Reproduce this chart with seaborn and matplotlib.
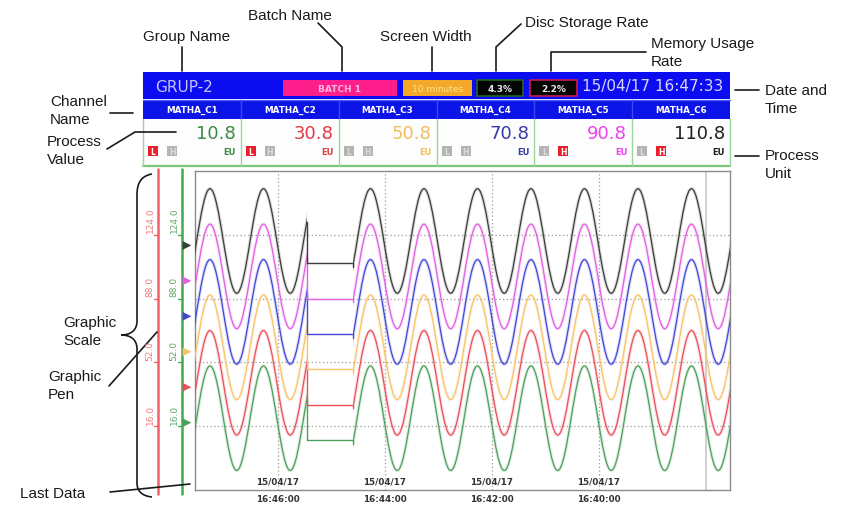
import numpy as np
import pandas as pd
import seaborn as sns
import matplotlib.pyplot as plt
from matplotlib.path import Path
from matplotlib.patches import PathPatch, Rectangle, Polygon
from matplotlib import transforms

# ---------------- values ----------------
group_name = "GRUP-2"
batch_name = "BATCH 1"
screen_width = "10 minutes"
disc_rate = "4.3%"
memory_rate = "2.2%"
stamp = "15/04/17 16:47:33"

channels = ["MATHA_C1", "MATHA_C2", "MATHA_C3", "MATHA_C4", "MATHA_C5", "MATHA_C6"]
process_values = [10.8, 30.8, 50.8, 70.8, 90.8, 110.8]
units = ["EU", "EU", "EU", "EU", "EU", "EU"]
low_alarm = [True, True, False, False, False, False]
high_alarm = [False, False, False, False, True, True]

pen_colors = ["#4f9f5c", "#e9505b", "#f7c36a", "#4646d6", "#e35ee3", "#3c3c3c"]
value_colors = ["#3c8a45", "#e23a46", "#f2bf5e", "#3a3aaa", "#f040f0", "#202020"]

# wave turning points, minutes before 16:47:33 (older data to the right)
extreme_times = [-0.22, 0.28, 0.78, 1.28, 1.78, 2.28, 2.78, 3.28, 3.78, 4.28, 4.78,
                 5.28, 5.78, 6.28, 6.78, 7.28, 7.78, 8.28, 8.78, 9.28, 9.78, 10.28]
wave_high = [50, 70, 90, 110, 130, 150]
wave_low = [-9, 11, 31, 51, 71, 91]

# hold section where the recorder lost data
gap_start, gap_end = 2.09, 2.95
gap_start_values = [31, 51, 71, 91, 111, 131]
hold_values = [8, 28, 48, 68, 88, 108]
gap_end_values = [6, 26, 46, 66, 86, 106]

pen_marker_values = [18, 38, 58, 78, 98, 118]

scale_ticks = [16, 52, 88, 124]
scale_labels = ["16.0", "52.0", "88.0", "124.0"]

grid_times = [1.55, 3.55, 5.55, 7.55]
tick_dates = ["15/04/17", "15/04/17", "15/04/17", "15/04/17"]
tick_times = ["16:46:00", "16:44:00", "16:42:00", "16:40:00"]
last_grid_time = 9.55

sns.set_theme(style="white")
plt.rcParams["font.family"] = ["DejaVu Sans"]
ANN = "Liberation Sans"

fig = plt.figure(figsize=(8.43, 5.10), dpi=100)
fig.patch.set_facecolor("white")

# pixel overlay for the screen furniture and call-outs
ov = fig.add_axes([0, 0, 1, 1], zorder=0)
ov.set_xlim(0, 843)
ov.set_ylim(510, 0)
ov.axis("off")

ax = fig.add_axes([195 / 843, 1 - 491 / 510, 535 / 843, 319 / 510], zorder=1)
ax.set_facecolor("white")


def wave_path(times, values, a=0.364):
    verts = [(times[0], values[0])]
    codes = [Path.MOVETO]
    for x0, y0, x1, y1 in zip(times[:-1], values[:-1], times[1:], values[1:]):
        dx = x1 - x0
        verts += [(x0 + a * dx, y0), (x1 - a * dx, y1), (x1, y1)]
        codes += [Path.CURVE4] * 3
    return Path(verts, codes)


pieces = [(0, gap_start), (gap_end, 10)]
for i in range(6):
    vals = [wave_low[i], wave_high[i]] * (len(extreme_times) // 2)
    path = wave_path(extreme_times, vals)
    for x0, x1 in pieces:
        for lw, alpha in [(2.4, 0.18), (0.9, 1.0)]:
            pp = PathPatch(path, facecolor="none", edgecolor=pen_colors[i], lw=lw, alpha=alpha, zorder=3)
            clip = Polygon([(x0, -20), (x1, -20), (x1, 160), (x0, 160)], closed=True,
                           transform=ax.transData)
            pp.set_clip_path(clip)
            ax.add_patch(pp)
    seg = pd.DataFrame({"t": [gap_start, gap_start, gap_end, gap_end],
                        "v": [gap_start_values[i], hold_values[i], hold_values[i], gap_end_values[i]]})
    sns.lineplot(data=seg, x="t", y="v", sort=False, estimator=None, color=pen_colors[i],
                 lw=1.0, ax=ax, zorder=3)

# pen position markers
sns.scatterplot(x=[-0.15] * 6, y=pen_marker_values, hue=channels, palette=pen_colors,
                marker=">", s=40, linewidth=0, legend=False, ax=ax, clip_on=False, zorder=6)

ax.set_xlim(0, 10)
ax.set_ylim(-20, 160)
ax.set_xlabel("")
ax.set_ylabel("")
ax.set_xticks(grid_times)
ax.set_yticks(scale_ticks)
ax.set_xticklabels([])
ax.set_yticklabels([])
ax.tick_params(length=0)
ax.grid(True, color="#9a9a9a", linestyle=(0, (1, 2)), lw=0.9)
ax.axvline(last_grid_time, color="#c8c8c8", lw=1.2, zorder=2)
for s in ax.spines.values():
    s.set_color("#8a8a8a")
    s.set_linewidth(1.0)

tb = transforms.blended_transform_factory(ax.transData, ax.transAxes)
for t, d, h in zip(grid_times, tick_dates, tick_times):
    ax.text(t, 0.028, d, transform=tb, ha="center", va="center", fontsize=6.3,
            fontweight="bold", color="#333333", zorder=7)
    ax.text(t, -0.026, h, transform=tb, ha="center", va="center", fontsize=6.3,
            fontweight="bold", color="#333333", clip_on=False)

# graphic scales
ts = transforms.blended_transform_factory(ov.transData, ax.transData)
ov.plot([158, 158], [170, 495], color="#f2606a", lw=1.8)
ov.plot([182, 182], [170, 495], color="#45a84d", lw=1.8)
for v, lab in zip(scale_ticks, scale_labels):
    ov.text(150, v + 1.5, lab, transform=ts, rotation=90, ha="center", va="bottom",
            fontsize=6.5, color="#f07a80")
    ov.text(174, v + 1.5, lab, transform=ts, rotation=90, ha="center", va="bottom",
            fontsize=6.5, color="#5ea862")
    ov.plot([154, 158], [v, v], transform=ts, color="#f2606a", lw=1)
    ov.plot([178, 182], [v, v], transform=ts, color="#45a84d", lw=1)

# ---------------- screen header ----------------
left, right = 143, 730
ov.add_patch(Rectangle((left, 73), right - left, 27, fc="#0c0cf0", ec="none"))
ov.add_patch(Rectangle((left, 101), right - left, 19, fc="#0c14e8", ec="none"))
ov.plot([left, right], [100.5, 100.5], color="#4a5cf6", lw=1)
ov.add_patch(Rectangle((left, 120), right - left, 47, fc="#fcfdfc", ec="none"))
ov.plot([left, right], [167, 167], color="#7cc67c", lw=1.6)
ov.plot([left, left], [120, 167], color="#9ad69a", lw=1)
ov.plot([right, right], [120, 167], color="#9ad69a", lw=1)

ov.text(155, 87, group_name, fontsize=11, color="#c4c4fa", va="center", ha="left")
ov.add_patch(Rectangle((283, 81), 114, 16, fc="#ff1f8c", ec="none"))
ov.text(340, 89, batch_name, fontsize=6.5, fontweight="bold", color="#ffb6dc", ha="center", va="center")
ov.add_patch(Rectangle((403, 81), 69, 16, fc="#f4a82a", ec="none"))
ov.text(437.5, 89, screen_width, fontsize=6.5, color="#ffe48a", ha="center", va="center")
ov.add_patch(Rectangle((477, 81), 46, 16, fc="#050505", ec="#1f6a1f", lw=1.2))
ov.text(500, 89, disc_rate, fontsize=6.5, fontweight="bold", color="#e8e8e8", ha="center", va="center")
ov.add_patch(Rectangle((530, 81), 47, 16, fc="#050505", ec="#c4204a", lw=1.2))
ov.text(553.5, 89, memory_rate, fontsize=6.5, fontweight="bold", color="#e8e8e8", ha="center", va="center")
ov.text(582, 87, stamp, fontsize=11, color="#d6d6ff", ha="left", va="center")

cell = (right - left) / 6
for i in range(6):
    x0 = left + i * cell
    if i > 0:
        ov.plot([x0, x0], [101, 120], color="#3a4cf0", lw=1)
        ov.plot([x0, x0], [120, 167], color="#9ad69a", lw=1)
    ov.text(x0 + cell / 2, 110.5, channels[i], fontsize=6.3, fontweight="bold", color="white",
            ha="center", va="center")
    ov.text(x0 + cell - 5, 134, f"{process_values[i]:.1f}", fontsize=13, color=value_colors[i],
            ha="right", va="center")
    lc = "#e8202c" if low_alarm[i] else "#b4b4b4"
    hc = "#e8202c" if high_alarm[i] else "#b4b4b4"
    ov.add_patch(Rectangle((x0 + 5, 147), 10, 10, fc=lc, ec="none"))
    ov.add_patch(Rectangle((x0 + 24, 147), 10, 10, fc=hc, ec="none"))
    ov.text(x0 + 10, 152.5, "L", fontsize=5.5, fontweight="bold", ha="center", va="center",
            color="white" if low_alarm[i] else "#dcdcdc")
    ov.text(x0 + 29, 152.5, "H", fontsize=5.5, fontweight="bold", ha="center", va="center",
            color="white" if high_alarm[i] else "#dcdcdc")
    ov.text(x0 + cell - 5, 153, units[i], fontsize=6, fontweight="bold", color=value_colors[i],
            ha="right", va="center")

# ---------------- call-outs ----------------
ink = "#1a1a1a"
kw = dict(fontsize=11, family=ANN, color=ink)
ov.text(143, 37, "Group Name", va="center", ha="left", **kw)
ov.plot([182, 182], [48, 72], color=ink, lw=1.2)
ov.text(248, 16, "Batch Name", va="center", ha="left", **kw)
ov.plot([318, 342, 342], [24, 48, 72], color=ink, lw=1.2)
ov.text(380, 37, "Screen Width", va="center", ha="left", **kw)
ov.plot([432, 432], [48, 72], color=ink, lw=1.2)
ov.text(525, 23, "Disc Storage Rate", va="center", ha="left", **kw)
ov.plot([521, 496, 496], [25, 48, 72], color=ink, lw=1.2)
ov.text(651, 44, "Memory Usage", va="center", ha="left", **kw)
ov.text(651, 62, "Rate", va="center", ha="left", **kw)
ov.plot([646, 551, 551], [53, 53, 72], color=ink, lw=1.2)
ov.text(765, 91, "Date and", va="center", ha="left", **kw)
ov.text(765, 109, "Time", va="center", ha="left", **kw)
ov.plot([735, 759], [91, 91], color=ink, lw=1.2)
ov.text(765, 156, "Process", va="center", ha="left", **kw)
ov.text(765, 174, "Unit", va="center", ha="left", **kw)
ov.plot([735, 759], [157, 157], color=ink, lw=1.2)
ov.text(50, 102, "Channel", va="center", ha="left", **kw)
ov.text(50, 120, "Name", va="center", ha="left", **kw)
ov.plot([110, 133], [114, 114], color=ink, lw=1.2)
ov.text(47, 142, "Process", va="center", ha="left", **kw)
ov.text(47, 160, "Value", va="center", ha="left", **kw)
ov.plot([107, 135, 176], [150, 133, 133], color=ink, lw=1.2)
ov.text(63, 323, "Graphic", va="center", ha="left", **kw)
ov.text(63, 341, "Scale", va="center", ha="left", **kw)
ov.text(48, 377, "Graphic", va="center", ha="left", **kw)
ov.text(48, 395, "Pen", va="center", ha="left", **kw)
ov.plot([109, 157], [387, 333], color=ink, lw=1.2)
ov.text(20, 494, "Last Data", va="center", ha="left", **kw)
ov.plot([110, 190], [493, 485], color=ink, lw=1.2)

brace = Path([(152, 175), (141, 177), (137, 184), (137, 196),
              (137, 322), (137, 332), (130, 336), (121, 336),
              (130, 336), (137, 340), (137, 350),
              (137, 484), (137, 492), (142, 497), (152, 498)],
             [Path.MOVETO, Path.CURVE4, Path.CURVE4, Path.CURVE4,
              Path.LINETO, Path.CURVE4, Path.CURVE4, Path.CURVE4,
              Path.CURVE4, Path.CURVE4, Path.CURVE4,
              Path.LINETO, Path.CURVE4, Path.CURVE4, Path.CURVE4])
ov.add_patch(PathPatch(brace, fc="none", ec=ink, lw=1.2))

fig.savefig("out.png", dpi=100)
